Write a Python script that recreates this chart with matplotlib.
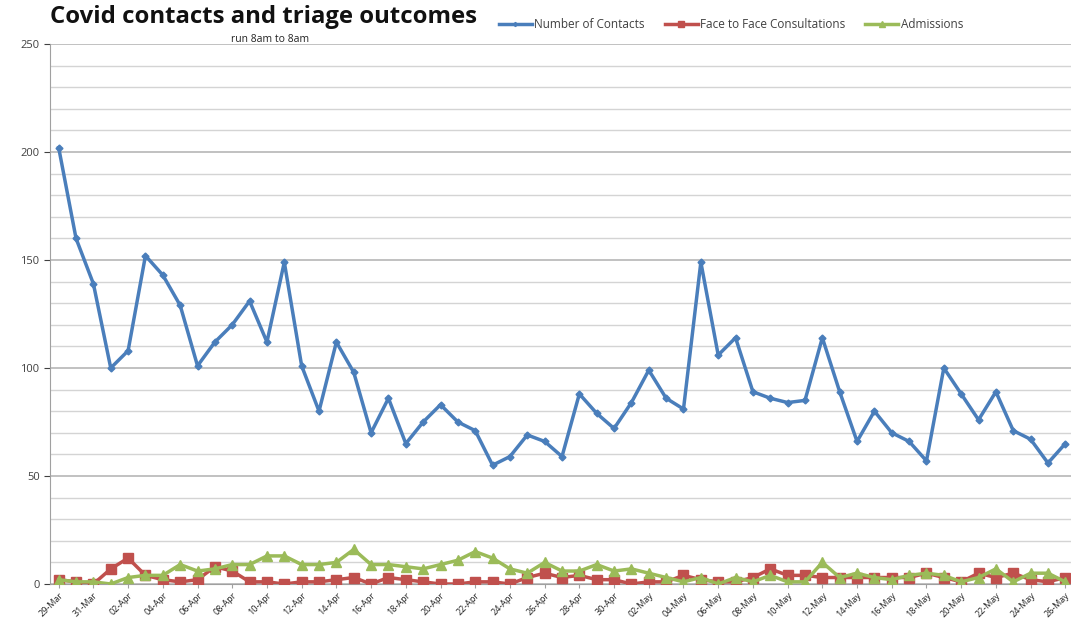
import matplotlib.pyplot as plt
import pandas as pd

# daily counts, 8am to 8am, 29 Mar - 26 May
dates = pd.date_range("2020-03-29", "2020-05-26", freq="D")
contacts = [202, 160, 139, 100, 108, 152, 143, 129, 101, 112,
            120, 131, 112, 149, 101, 80, 112, 98, 70, 86,
            65, 75, 83, 75, 71, 55, 59, 69, 66, 59,
            88, 79, 72, 84, 99, 86, 81, 149, 106, 114,
            89, 86, 84, 85, 114, 89, 66, 80, 70, 66,
            57, 100, 88, 76, 89, 71, 67, 56, 65]
f2f = [2, 1, 0, 7, 12, 4, 2, 1, 2, 8,
       6, 1, 1, 0, 1, 1, 2, 3, 0, 3,
       2, 1, 0, 0, 1, 1, 0, 3, 5, 3,
       4, 2, 2, 0, 1, 1, 4, 2, 1, 1,
       3, 7, 4, 4, 3, 3, 3, 3, 3, 3,
       5, 3, 1, 5, 3, 5, 2, 1, 3]
admissions = [2, 1, 1, 0, 3, 4, 4, 9, 6, 7,
              9, 9, 13, 13, 9, 9, 10, 16, 9, 9,
              8, 7, 9, 11, 15, 12, 7, 5, 10, 6,
              6, 9, 6, 7, 5, 3, 1, 3, 0, 3,
              1, 4, 1, 1, 10, 3, 5, 3, 2, 4,
              5, 4, 1, 3, 7, 1, 5, 5, 1]

labels = [d.strftime("%d-%b") for d in dates]
x = list(range(len(dates)))

plt.rcParams['font.family'] = ['Open Sans', 'DejaVu Sans']

fig = plt.figure(figsize=(10.71, 6.25), dpi=100)
ax = fig.add_axes([50 / 1071, 41 / 625, 1024 / 1071, 540 / 625])

ax.plot(x, contacts, color="#4A7EBB", lw=2.5, marker="D", ms=3.5, label="Number of Contacts", zorder=3)
ax.plot(x, f2f, color="#C0504D", lw=2.5, marker="s", ms=6.5, label="Face to Face Consultations", zorder=4)
ax.plot(x, admissions, color="#9BBB59", lw=2.5, marker="^", ms=7, label="Admissions", zorder=5)

ax.set_xlim(-0.5, len(x) - 0.5)
ax.set_ylim(0, 250)
ax.set_yticks(range(0, 251, 50))
ax.set_yticks(range(0, 251, 10), minor=True)
ax.grid(axis="y", which="major", color="#b0b0b0", lw=1.1)
ax.grid(axis="y", which="minor", color="#d4d4d4", lw=1.0)
ax.set_axisbelow(True)
ax.tick_params(axis="y", which="major", labelsize=8, colors="#404040", length=4, direction="out")
ax.tick_params(axis="y", which="minor", length=0)

ax.set_xticks(x[::2])
ax.set_xticklabels(labels[::2], rotation=45, ha="right", rotation_mode="anchor", fontsize=6.5, color="#202020")
ax.tick_params(axis="x", length=3, color="#a0a0a0", pad=2)

for side in ["top", "right"]:
    ax.spines[side].set_visible(False)
ax.spines["left"].set_color("#a0a0a0")
ax.spines["bottom"].set_color("#a0a0a0")

fig.text(50 / 1071, 1 - 17 / 625, "Covid contacts and triage outcomes", fontsize=17.2, fontweight="bold",
         va="center", ha="left", color="#111111")
fig.text(270 / 1071, 1 - 40 / 625, "run 8am to 8am", fontsize=7.5, va="center", ha="center", color="#222222")

fig.legend(loc="center left", bbox_to_anchor=(488 / 1071, 1 - 25 / 625), ncol=3, frameon=False,
           fontsize=8.5, handlelength=2.8, handletextpad=0.2, columnspacing=1.7, markerscale=0.6,
           labelcolor="#404040")

fig.savefig("out.png", dpi=100)
